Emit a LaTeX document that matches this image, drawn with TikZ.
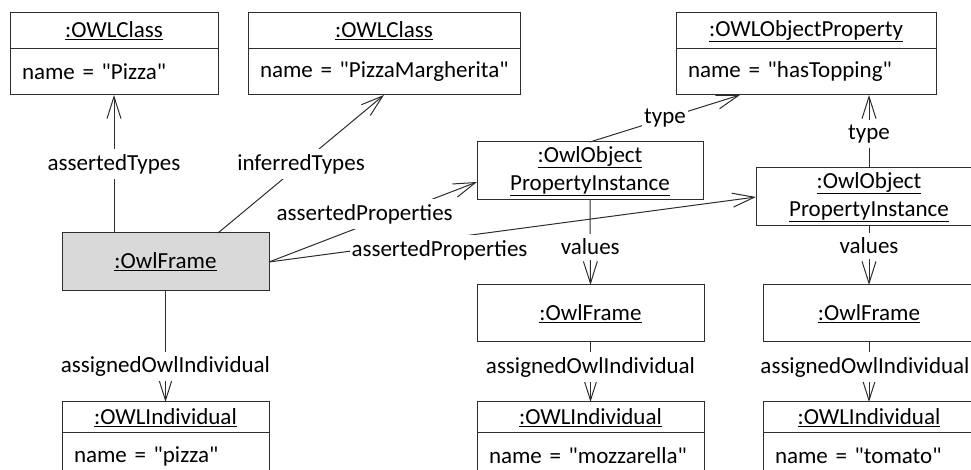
\documentclass[tikz,border=0pt]{standalone}
\usepackage{fontspec}
\setmainfont{Carlito}
\usetikzlibrary{arrows.meta,positioning,calc}
\definecolor{owlGray}{RGB}{217,217,217}
\definecolor{owlLine}{RGB}{45,45,45}
\newcommand{\owlq}[1]{\textquotedbl#1\textquotedbl}

\begin{document}
\begin{tikzpicture}[
  x=1pt, y=1pt,
  every node/.style={font=\fontsize{23}{28}\selectfont, outer sep=0pt},
  head/.style={draw=owlLine, line width=1pt, minimum width=#1, minimum height=36pt,
               inner sep=0pt, align=center},
  attr/.style={draw=owlLine, line width=1pt, text width=#1-24pt, minimum height=46pt,
               inner xsep=12pt, inner ysep=0pt, align=left},
  obj/.style={draw=owlLine, line width=1pt, minimum width=#1, minimum height=58pt,
              inner sep=0pt, align=center},
  link/.style={draw=owlLine, line width=1pt, -{Straight Barb[length=22pt,width=14pt]}},
  lbl/.style={fill=white, inner xsep=2pt, inner ysep=5pt}
]
  \useasboundingbox (0,0) rectangle (971,470);
  \clip (0,0) rectangle (971,470);

  % classes and property
  \node[head=208pt, anchor=north west] (pizzaHead) at (10,457) {\underline{:OWLClass}};
  \node[attr=208pt, below=0pt of pizzaHead]     (pizzaAttr) {name = \owlq{Pizza}};
  \node[head=272pt, anchor=north west] (margHead) at (248,457) {\underline{:OWLClass}};
  \node[attr=272pt, below=0pt of margHead]      (margAttr)  {\mbox{name = \owlq{PizzaMargherita}}};
  \node[head=260pt, anchor=north west] (propHead) at (676,457) {\underline{:OWLObjectProperty}};
  \node[attr=260pt, below=0pt of propHead]      (propAttr)  {name = \owlq{hasTopping}};

  % frames
  \node[obj=207pt, fill=owlGray, anchor=north west] (frameMain) at (62,237) {\underline{:OwlFrame}};
  \node[obj=226pt, anchor=north west] (propInst1) at (477,328)
       {\underline{:OwlObject}\\\underline{PropertyInstance}};
  \node[obj=226pt, anchor=north west] (propInst2) at (756,302)
       {\underline{:OwlObject}\\\underline{PropertyInstance}};
  \node[obj=227pt, minimum height=57pt, anchor=north west] (frameMozz) at (477,185) {\underline{:OwlFrame}};
  \node[obj=212pt, minimum height=57pt, anchor=north west] (frameTom)  at (763,185) {\underline{:OwlFrame}};

  % individuals
  \node[head=207pt, minimum height=31pt, anchor=north west] (pizzaIndHead) at (62,68) {\underline{:OWLIndividual}};
  \node[attr=207pt, below=0pt of pizzaIndHead] (pizzaIndAttr) {name = \owlq{pizza}};
  \node[head=227pt, minimum height=31pt, anchor=north west] (mozzIndHead) at (477,68) {\underline{:OWLIndividual}};
  \node[attr=227pt, below=0pt of mozzIndHead]  (mozzIndAttr)  {name = \owlq{mozzarella}};
  \node[head=212pt, minimum height=31pt, anchor=north west] (tomIndHead) at (763,68) {\underline{:OWLIndividual}};
  \node[attr=212pt, below=0pt of tomIndHead]   (tomIndAttr)   {name = \owlq{tomato}};

  % links
  \draw[link] (frameMain.north -| pizzaAttr.south) -- node[lbl] {assertedTypes} (pizzaAttr.south);
  \draw[link] ($(frameMain.north east)+(-51,0)$) -- node[lbl] {inferredTypes} (margAttr.south);
  \draw[link] (frameMain.east) -- node[lbl, pos=0.46, yshift=11pt] {assertedProperties} ($(propInst1.west)+(0,-11)$);
  \draw[link] (frameMain.east) -- node[lbl, pos=0.35, yshift=-11pt] {assertedProperties} (propInst2.west);
  \draw[link] (propInst1.north) -- node[lbl] {type} ($(propAttr.south west)+(64,0)$);
  \draw[link] (propInst2.north) -- node[lbl, pos=0.47] {type} (propInst2.north |- propAttr.south);
  \draw[link] (propInst1.south) -- node[lbl, pos=0.55] {values} (frameMozz.north);
  \draw[link] (propInst2.south) -- node[lbl, pos=0.34] {values} (frameTom.north);
  \draw[link] (frameMain.south) -- node[lbl, pos=0.68] {assignedOwlIndividual} (pizzaIndHead.north);
  \draw[link] (frameMozz.south) -- node[lbl, pos=0.42] {assignedOwlIndividual} (mozzIndHead.north);
  \draw[link] (frameTom.south)  -- node[lbl, pos=0.42, xshift=-4pt, inner xsep=0pt] {assignedOwlIndividual} (tomIndHead.north);
\end{tikzpicture}
\end{document}
